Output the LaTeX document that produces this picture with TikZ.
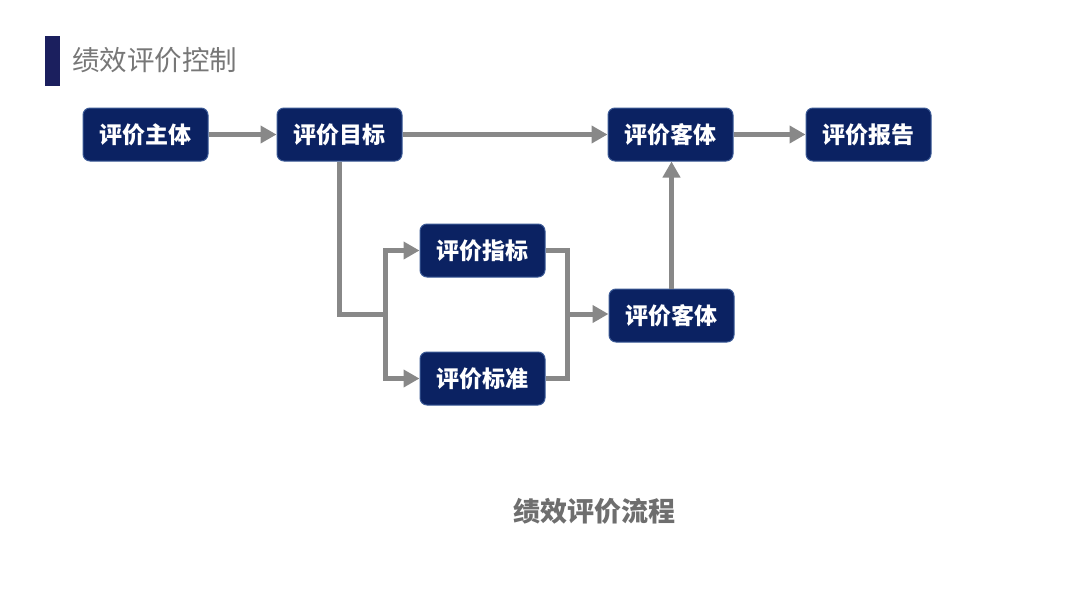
\documentclass[tikz,border=0pt]{standalone}
\usepackage{fontspec}
\newfontfamily\cjk{Noto Sans CJK SC}
\usetikzlibrary{arrows.meta}
\definecolor{navy}{HTML}{0B2262}
\definecolor{navyedge}{HTML}{3B5A96}
\definecolor{bar}{HTML}{1B1F5E}
\definecolor{arrowgray}{HTML}{888888}
\definecolor{titlegray}{HTML}{777777}
\definecolor{capgray}{HTML}{6E6E6E}
\tikzset{
  box/.style={draw=navyedge, line width=1pt, fill=navy, rounded corners=7pt,
    minimum width=125pt, minimum height=53pt, inner sep=0pt,
    text=white, font=\cjk\bfseries\fontsize{23}{27}\selectfont},
  conn/.style={draw=arrowgray, line width=5pt},
  arr/.style={conn, -{Triangle[length=16pt,width=17pt]}}
}
\begin{document}
\begin{tikzpicture}[x=1pt,y=-1pt]
\useasboundingbox (0,0) rectangle (1080,608);
\fill[white] (0,0) rectangle (1080,608);
% title
\fill[bar] (45,36) rectangle (60,86);
\node[anchor=west, text=titlegray, font=\cjk\fontsize{27.5}{32}\selectfont, inner sep=0pt] (title) at (72,60) {绩效评价控制};
% boxes
\node[box] (zt) at (145.5,134.5) {评价主体};
\node[box] (mb) at (339.5,134.5) {评价目标};
\node[box] (kt) at (670.5,134.5) {评价客体};
\node[box] (bg) at (868.5,134.5) {评价报告};
\node[box] (zb) at (482.5,250.5) {评价指标};
\node[box] (bz) at (482.5,378.5) {评价标准};
\node[box] (kt2) at (671.5,315.5) {评价客体};
% caption
\node[text=capgray, font=\cjk\bfseries\fontsize{27}{31}\selectfont] (cap) at (594,511) {绩效评价流程};
% junction coordinates
\coordinate (j1) at (385,314);
\coordinate (j2) at (567,314);
% connectors
\draw[arr] (zt.east) -- (mb.west);
\draw[arr] (mb.east) -- (kt.west);
\draw[arr] (kt.east) -- (bg.west);
\draw[conn, line join=miter] (mb.south) |- (j1);
\draw[arr, line join=miter] (j1) |- (zb.west);
\draw[arr, line join=miter] (j1) |- (bz.west);
\draw[conn, line join=miter] (zb.east) -| (j2);
\draw[conn, line join=miter] (bz.east) -| (j2);
\draw[arr] (j2) -- (j2 -| kt2.west);
\draw[arr] (kt2.north) -- (kt2.north |- kt.south);
\end{tikzpicture}
\end{document}
